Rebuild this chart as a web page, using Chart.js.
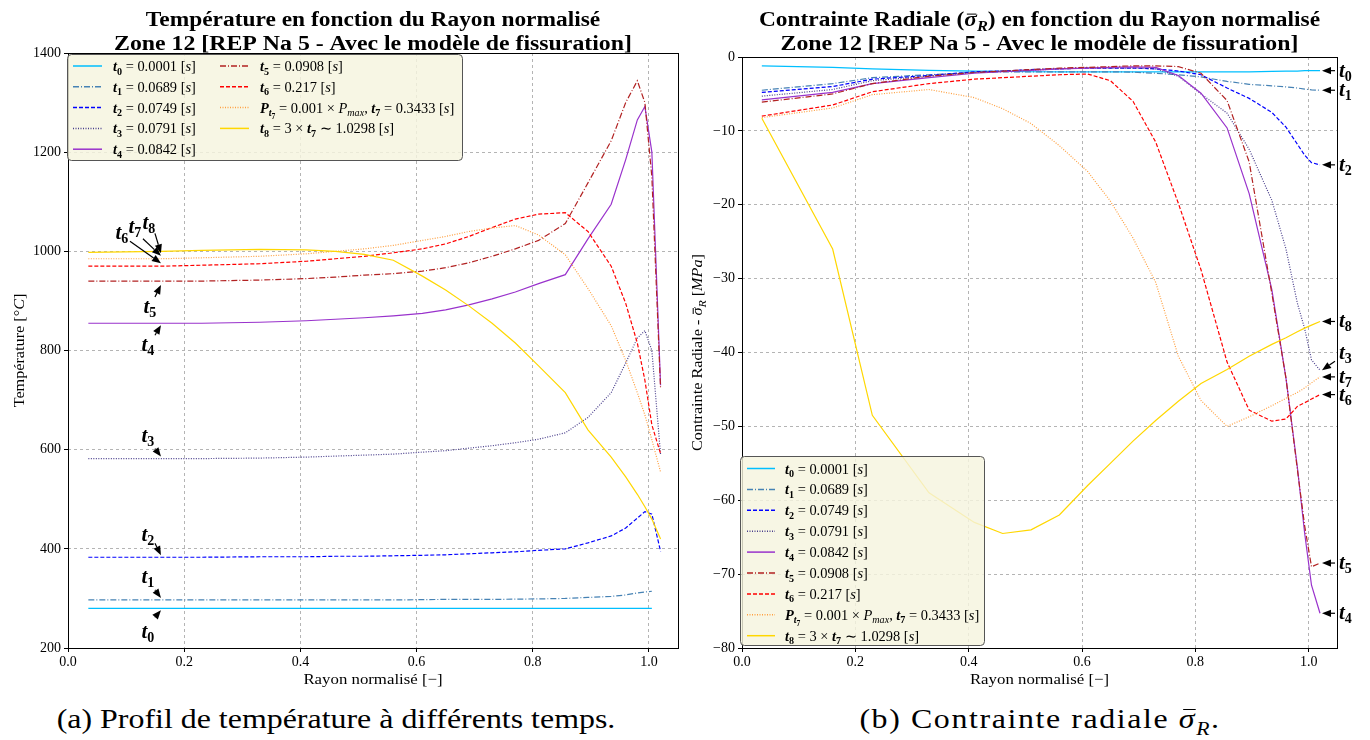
<!DOCTYPE html>
<html>
<head>
<meta charset="utf-8">
<script src="https://cdn.jsdelivr.net/npm/chart.js@4.4.1/dist/chart.umd.min.js"></script>
<style>
body { margin:0; background:#fff; width:1370px; height:740px; overflow:hidden; position:relative; font-family:"Liberation Serif", serif; }
canvas { position:absolute; top:0; }
#c1 { left:0; }
#c2 { left:685px; }
.cap { position:absolute; top:704px; font-size:28px; line-height:30px; white-space:nowrap; transform:translateX(-50%) scaleX(1.14); color:#000; }
.bar { position:relative; }
.bar span { position:absolute; left:4px; right:0; top:6px; border-top:1.5px solid #000; }
</style>
</head>
<body>
<canvas id="c1" width="685" height="695"></canvas>
<canvas id="c2" width="685" height="695"></canvas>
<div class="cap" style="left:336px">(a) Profil de température à différents temps.</div>
<div class="cap" style="left:1040px; letter-spacing:1.4px">(b) Contrainte radiale <i class="bar">σ<span></span></i><sub style="font-size:19px"><i>R</i></sub>.</div>
<script>
var SERIF = '"Liberation Serif", "Times New Roman", serif';

// Rayon normalise (abscisse commune)
var rayon = [0.035, 0.16, 0.23, 0.33, 0.41, 0.46, 0.51, 0.56, 0.61, 0.65, 0.69, 0.73, 0.77, 0.81, 0.856, 0.895, 0.935, 0.96, 0.98, 0.993, 1.005, 1.02];

// Temperature [C]
var temp_t0 = [280, 280, 280, 280, 280, 280, 280, 280, 280, 280, 280, 280, 280, 280, 280, 280, 280, 280, 280, 280, 280, null];
var temp_t1 = [297, 297, 297, 297, 297, 297, 297, 297, 297.5, 298, 298, 298, 298.5, 299, 300, 302, 304, 307, 311, 313, 314.5, null];
var temp_t2 = [383, 383, 383, 384, 384, 385, 385, 386, 387, 388, 390, 392, 394, 397, 400, 412, 426, 442, 462, 475, 470, 395];
var temp_t3 = [582, 582, 582, 583, 585, 587, 589, 591, 595, 598, 603, 608, 614, 621, 634, 665, 715, 775, 825, 840, 800, 590];
var temp_t4 = [855, 855, 855, 857, 860, 863, 866, 870, 875, 882, 892, 904, 918, 935, 953, 1025, 1095, 1185, 1265, 1292, 1200, 730];
var temp_t5 = [940, 940, 940, 942, 945, 948, 952, 955, 960, 967, 977, 990, 1005, 1022, 1056, 1138, 1223, 1300, 1344, 1300, 1150, 723];
var temp_t6 = [970, 970, 972, 975, 980, 985, 990, 997, 1005, 1015, 1030, 1048, 1065, 1075, 1078, 1040, 970, 895, 815, 740, 650, 592];
var temp_t7 = [985, 985, 987, 990, 995, 1000, 1005, 1012, 1022, 1030, 1040, 1047, 1052, 1033, 993, 925, 850, 780, 715, 670, 620, 555];
var temp_t8 = [998, 1000, 1002, 1004, 1003, 1000, 994, 982, 950, 922, 890, 855, 815, 769, 715, 640, 585, 545, 510, 485, 460, 420];

// Contrainte radiale [MPa]
var sig_t0 = [-1.2, -1.4, -1.6, -1.8, -1.9, -1.95, -2.0, -2.0, -2.0, -2.0, -2.0, -2.0, -2.0, -2.0, -2.0, -2.0, -1.95, -1.9, -1.9, -1.85, -1.85, -1.85];
var sig_t1 = [-4.5, -3.6, -2.8, -2.4, -2.1, -2.0, -2.0, -2.0, -2.0, -2.0, -2.05, -2.2, -2.4, -2.7, -3.3, -3.7, -3.9, -4.05, -4.2, -4.35, -4.45, -4.5];
var sig_t2 = [-4.8, -4.0, -3.0, -2.5, -2.0, -1.9, -1.7, -1.6, -1.5, -1.5, -1.5, -1.6, -1.9, -2.4, -4.2, -5.6, -7.5, -9.5, -11.8, -13.3, -14.3, -14.6];
var sig_t3 = [-5.3, -4.4, -3.2, -2.6, -2.1, -1.9, -1.8, -1.6, -1.5, -1.5, -1.5, -1.6, -2.6, -5.0, -7.6, -12.5, -19.4, -26.0, -33.3, -36.8, -41.0, -42.4];
var sig_t4 = [-5.8, -4.8, -3.6, -2.8, -2.2, -2.0, -1.8, -1.6, -1.5, -1.4, -1.35, -1.4, -2.5, -4.9, -9.6, -18.5, -31.5, -43.5, -55.5, -64.5, -71.5, -75.3];
var sig_t5 = [-6.1, -5.0, -3.6, -2.6, -2.1, -1.9, -1.7, -1.5, -1.4, -1.3, -1.2, -1.2, -1.3, -2.2, -5.9, -14.2, -32.0, -43.5, -55.8, -63.5, -69.0, -68.5];
var sig_t6 = [-8.0, -6.5, -4.7, -3.6, -3.0, -2.8, -2.6, -2.4, -2.3, -3.2, -6.0, -11.5, -19.8, -28.8, -41.3, -47.8, -49.3, -49.0, -47.3, -46.8, -46.3, -45.7];
var sig_t7 = [-8.2, -6.9, -5.1, -4.4, -5.5, -7.0, -9.0, -12.0, -15.5, -19.5, -24.5, -30.5, -40.5, -46.5, -50.0, -48.7, -47.2, -46.2, -45.4, -44.8, -44.1, -43.3];
var sig_t8 = [-8.3, -26.0, -48.5, -59.0, -63.0, -64.5, -64.0, -62.0, -58.0, -55.0, -52.0, -49.2, -46.6, -44.2, -42.3, -40.5, -38.9, -38.0, -37.2, -36.7, -36.3, -35.8];

var instants = ['0.0001', '0.0689', '0.0749', '0.0791', '0.0842', '0.0908', '0.217', '0.3433', '1.0298'];

var temperatures = [temp_t0, temp_t1, temp_t2, temp_t3, temp_t4, temp_t5, temp_t6, temp_t7, temp_t8];
var contraintes = [sig_t0, sig_t1, sig_t2, sig_t3, sig_t4, sig_t5, sig_t6, sig_t7, sig_t8];

var couleurs = ['#00bfff', '#4682b4', '#0000ff', '#483d8b', '#9932cc', '#b22222', '#ff0000', '#ffa040', '#ffd700'];
var tirets = [[], [6, 2, 1, 2], [4, 2], [1, 1.5], [], [6, 2, 1, 2], [4, 2], [1, 1.5], []];

// --- petits outils de dessin de texte "mathematique" ---
function S(t, size, st, dy, bar)
{
    return {t: t, size: size, st: st || '', dy: dy || 0, bar: bar};
}

function fontOf(s)
{
    return s.st + ' ' + s.size + 'px ' + SERIF;
}

// Computer Modern est plus large : sx etire le texte horizontalement
function rich(ctx, segs, x, y, align, sx)
{
    sx = sx || 1;
    var w = 0;
    segs.forEach(function(s){ ctx.font = fontOf(s); w += ctx.measureText(s.t).width; });
    var cx = 0;
    if (align === 'center') cx = -w / 2;
    if (align === 'right') cx = -w;
    ctx.save();
    ctx.translate(x, y);
    ctx.scale(sx, 1);
    ctx.textAlign = 'left';
    segs.forEach(function(s){
        ctx.font = fontOf(s);
        var sw = ctx.measureText(s.t).width;
        ctx.fillText(s.t, cx, s.dy);
        if (s.bar)
        {
            ctx.fillRect(cx + sw * 0.2, s.dy - s.size * 0.62, sw * 0.75, Math.max(1, s.size * 0.05));
        }
        cx += sw;
    });
    ctx.restore();
    return w * sx;
}

function legendSegs(i, fs)
{
    var sub = fs * 0.7, d = fs * 0.25;
    var segs = [];
    if (i === 7)
    {
        segs.push(S('P', fs, 'bold italic'), S('t', sub, 'bold italic', d), S('7', sub * 0.75, 'bold', d * 1.7),
                  S(' = 0.001 × ', fs), S('P', fs, 'italic'), S('max', sub, 'italic', d), S(', ', fs));
    }
    segs.push(S('t', fs, 'bold italic'), S(String(i), sub, 'bold', d));
    if (i === 8)
        segs.push(S(' = 3 × ', fs), S('t', fs, 'bold italic'), S('7', sub, 'bold', d), S(' ∼ ', fs));
    else
        segs.push(S(' = ', fs));
    segs.push(S(instants[i] + ' [', fs), S('s', fs, 'italic'), S(']', fs));
    return segs;
}

function arrow(ctx, x0, y0, x1, y1)
{
    var a = Math.atan2(y1 - y0, x1 - x0), L = 9, W = 3.6;
    var bx = x1 - L * Math.cos(a), by = y1 - L * Math.sin(a);
    ctx.beginPath(); ctx.moveTo(x0, y0); ctx.lineTo(bx, by); ctx.stroke();
    ctx.beginPath();
    ctx.moveTo(x1, y1);
    ctx.lineTo(bx - W * Math.sin(a), by + W * Math.cos(a));
    ctx.lineTo(bx + W * Math.sin(a), by - W * Math.cos(a));
    ctx.closePath(); ctx.fill();
}

function drawLegend(ctx, L)
{
    ctx.save();
    ctx.beginPath();
    ctx.roundRect(L.x + 0.5, L.y + 0.5, L.w, L.h, 4);
    ctx.fillStyle = 'rgba(245,244,222,0.82)';
    ctx.fill();
    ctx.strokeStyle = '#555'; ctx.lineWidth = 1; ctx.setLineDash([]);
    ctx.stroke();
    L.cols.forEach(function(col, c){
        col.forEach(function(i, r){
            var y = L.y0 + r * L.dy;
            var x = L.colX[c];
            ctx.strokeStyle = couleurs[i]; ctx.lineWidth = 1.5; ctx.setLineDash(tirets[i]);
            ctx.beginPath(); ctx.moveTo(x, y); ctx.lineTo(x + L.sampleW, y); ctx.stroke();
            ctx.setLineDash([]);
            ctx.fillStyle = '#000';
            rich(ctx, legendSegs(i, 14), x + L.textDx, y + 5, 'left', 1.03);
        });
    });
    ctx.restore();
}

var decor = {
    id: 'decor',
    afterDraw: function(chart, args, o)
    {
        var ctx = chart.ctx, a = chart.chartArea, sx = chart.scales.x, sy = chart.scales.y;
        ctx.save();
        ctx.strokeStyle = '#000'; ctx.lineWidth = 1; ctx.setLineDash([]);
        ctx.strokeRect(Math.round(a.left) + 0.5, Math.round(a.top) + 0.5, Math.round(a.right - a.left), Math.round(a.bottom - a.top));
        ctx.fillStyle = '#000';
        ctx.textBaseline = 'alphabetic';
        var cx = (a.left + a.right) / 2;
        rich(ctx, o.titre1, cx, 26, 'center', 1.17);
        rich(ctx, o.titre2, cx, 50, 'center', 1.19);
        rich(ctx, o.xTitre, cx, 684, 'center', 1.12);
        ctx.save();
        ctx.translate(o.yTitreX, (a.top + a.bottom) / 2);
        ctx.rotate(-Math.PI / 2);
        rich(ctx, o.yTitre, 0, 5, 'center', 1.08);
        ctx.restore();

        drawLegend(ctx, o.legende);

        // fleches t_i
        ctx.strokeStyle = '#000'; ctx.fillStyle = '#000'; ctx.lineWidth = 1.2;
        o.notes.forEach(function(n){
            var vals = o.series[n.i];
            var px = sx.getPixelForValue(rayon[o.idx]);
            var py = sy.getPixelForValue(vals[o.idx]);
            arrow(ctx, px + n.t[0], py + n.t[1], px + n.h[0], py + n.h[1]);
            rich(ctx, [S('t', 21, 'bold italic'), S(String(n.i), 14, 'bold', 4)], px + n.l[0], py + n.l[1] + 6, n.align);
        });
        ctx.restore();
    }
};

function makeSets(series)
{
    return series.map(function(vals, i){
        var pts = [];
        for (var k = 0; k < rayon.length; ++k)
        {
            if (vals[k] !== null) pts.push({x: rayon[k], y: vals[k]});
        }
        return {
            label: 't' + i, data: pts, borderColor: couleurs[i], borderWidth: 1.2,
            borderDash: tirets[i], pointRadius: 0, fill: false, tension: 0, order: 8 - i
        };
    });
}

function axes(ymin, ymax, ystep, yWidth, yfmt)
{
    var grid = {color: '#b4b4b4', lineWidth: 1, borderDash: [3, 3], drawTicks: true, tickLength: 4,
                tickColor: '#000', tickBorderDash: [], tickWidth: 1};
    var tickFont = {family: SERIF, size: 14};
    return {
        x: {
            type: 'linear', min: 0, max: 1.05,
            afterFit: function(s){ s.height = 47; },
            ticks: {stepSize: 0.2, includeBounds: false, maxRotation: 0, padding: 2, color: '#000', font: tickFont,
                    callback: function(v){ return v.toFixed(1); }},
            grid: grid, border: {display: false, dash: [3, 3]}
        },
        y: {
            type: 'linear', min: ymin, max: ymax,
            afterFit: function(s){ s.width = yWidth; },
            ticks: {stepSize: ystep, padding: 3, color: '#000', font: tickFont, callback: yfmt},
            grid: grid, border: {display: false, dash: [3, 3]}
        }
    };
}

// ---------- (a) Temperature ----------
new Chart(document.getElementById('c1'), {
    type: 'line',
    data: {datasets: makeSets(temperatures)},
    options: {
        responsive: false, animation: false,
        layout: {padding: {left: 0, right: 7, top: 53, bottom: 0}},
        scales: axes(200, 1400, 200, 68, function(v){ return String(v); }),
        plugins: {
            legend: {display: false}, tooltip: {enabled: false}, title: {display: false},
            decor: {
                titre1: [S('Température en fonction du Rayon normalisé', 20, 'bold')],
                titre2: [S('Zone 12 [REP Na 5 - Avec le modèle de fissuration]', 20, 'bold')],
                xTitre: [S('Rayon normalisé [−]', 15)],
                yTitre: [S('Température [°', 15), S('C', 15, 'italic'), S(']', 15)],
                yTitreX: 19,
                series: temperatures, idx: 1,
                legende: {x: 67, y: 54, w: 395, h: 106, cols: [[0, 1, 2, 3, 4], [5, 6, 7, 8]], colX: [73, 220],
                          y0: 66, dy: 20.8, sampleW: 29, textDx: 40},
                notes: [
                    {i: 8, h: [0, 2], t: [-6, -18], l: [-12, -28], align: 'center'},
                    {i: 7, h: [0, -3], t: [-18, -20], l: [-26, -32], align: 'center'},
                    {i: 6, h: [0, -3], t: [-31, -25], l: [-39, -33], align: 'center'},
                    {i: 5, h: [0, 4], t: [-6, 16], l: [-11, 26], align: 'center'},
                    {i: 4, h: [0, 2], t: [-6, 12], l: [-13, 22], align: 'center'},
                    {i: 3, h: [0, -2], t: [-6, -10], l: [-13, -23], align: 'center'},
                    {i: 2, h: [0, -2], t: [-6, -14], l: [-13, -22], align: 'center'},
                    {i: 1, h: [0, -2], t: [-6, -10], l: [-13, -23], align: 'center'},
                    {i: 0, h: [0, 2], t: [-6, 9], l: [-13, 24], align: 'center'}
                ]
            }
        }
    },
    plugins: [decor]
});

// ---------- (b) Contrainte radiale ----------
new Chart(document.getElementById('c2'), {
    type: 'line',
    data: {datasets: makeSets(contraintes)},
    options: {
        responsive: false, animation: false,
        layout: {padding: {left: 0, right: 33, top: 57, bottom: 0}},
        scales: axes(-80, 0, 10, 57, function(v){ return v === 0 ? '0' : '−' + Math.abs(v); }),
        plugins: {
            legend: {display: false}, tooltip: {enabled: false}, title: {display: false},
            decor: {
                titre1: [S('Contrainte Radiale (', 20, 'bold'), S('σ', 20, 'bold italic', 0, true), S('R', 14, 'bold italic', 5),
                         S(') en fonction du Rayon normalisé', 20, 'bold')],
                titre2: [S('Zone 12 [REP Na 5 - Avec le modèle de fissuration]', 20, 'bold')],
                xTitre: [S('Rayon normalisé [−]', 15)],
                yTitre: [S('Contrainte Radiale - ', 15), S('σ', 15, 'italic', 0, true), S('R', 11, 'italic', 4),
                         S(' [', 15), S('MPa', 15, 'italic'), S(']', 15)],
                yTitreX: 12,
                series: contraintes, idx: rayon.length - 1,
                legende: {x: 55, y: 456, w: 244, h: 189, cols: [[0, 1, 2, 3, 4, 5, 6, 7, 8]], colX: [62],
                          y0: 468.5, dy: 20.9, sampleW: 28, textDx: 38},
                notes: [
                    {i: 0, h: [2, 0], t: [15, 0], l: [19, 0], align: 'left'},
                    {i: 1, h: [2, 0], t: [15, 0], l: [19, 0], align: 'left'},
                    {i: 2, h: [2, 0], t: [15, 0], l: [19, 0], align: 'left'},
                    {i: 8, h: [2, 0], t: [15, 0], l: [19, 0], align: 'left'},
                    {i: 3, h: [2, 0], t: [15, -9], l: [19, -17], align: 'left'},
                    {i: 7, h: [2, 0], t: [15, 0], l: [19, 0], align: 'left'},
                    {i: 6, h: [2, 0], t: [15, 0], l: [19, 0], align: 'left'},
                    {i: 5, h: [2, 0], t: [15, 0], l: [19, 0], align: 'left'},
                    {i: 4, h: [2, 0], t: [15, 0], l: [19, 0], align: 'left'}
                ]
            }
        }
    },
    plugins: [decor]
});
</script>
</body>
</html>
